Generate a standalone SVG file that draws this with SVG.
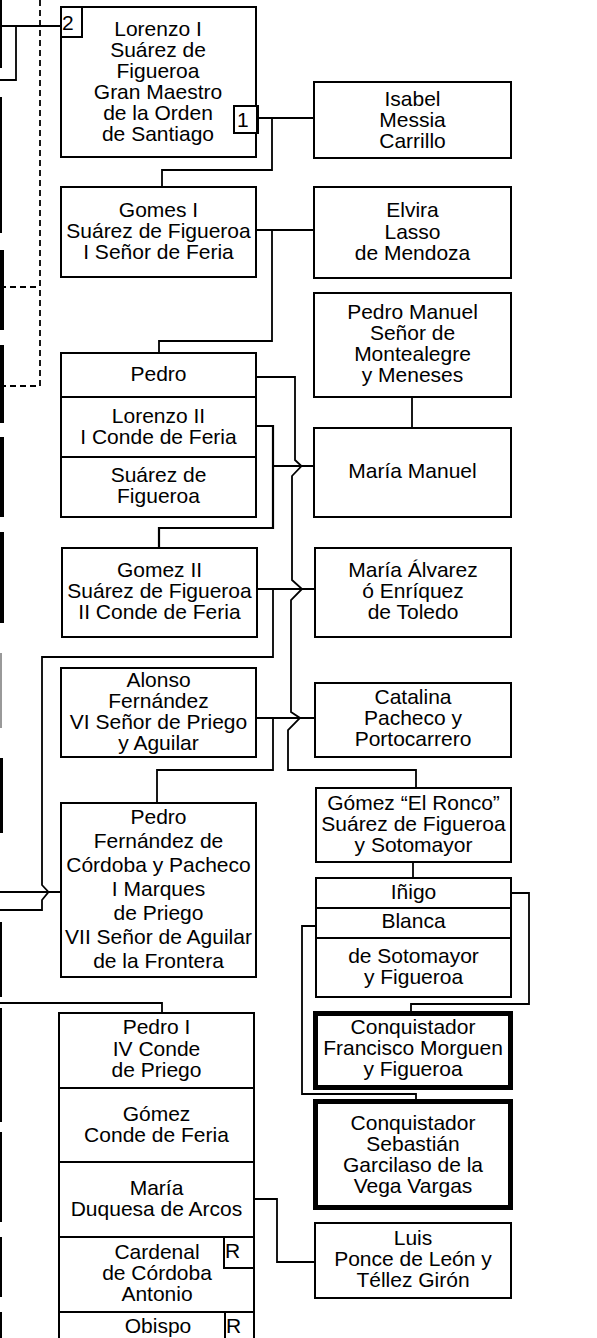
<svg xmlns="http://www.w3.org/2000/svg" width="597" height="1338" viewBox="0 0 597 1338">
<style>
.b{fill:#fff;stroke:#000;stroke-width:2}
.bb{fill:#fff;stroke:#000;stroke-width:5}
.c{fill:none;stroke:#000;stroke-width:1.8}
.d{fill:none;stroke:#000;stroke-width:1.8;stroke-dasharray:6,4}
.e{fill:#000;stroke:none}
text{font-family:"Liberation Sans",Arial,sans-serif;font-size:21px;fill:#000;text-anchor:middle}
.s{text-anchor:start}
</style>
<rect width="597" height="1338" fill="#fff"/>
<g id="connectors">
<path class="d" d="M40,0 V386 H0 M0,287 H40"/>
<path class="c" d="M0,26 H61 M16,26 V80 H0"/>
<path class="c" d="M258,118 H314 M272,118 V170 H162 V187"/>
<path class="c" d="M256,230 H314 M272,230 V341 H159 V353"/>
<path class="c" d="M412,397 V428"/>
<path class="c" d="M256,426 H273 V528 H159 V548 M273,466 H314" style="stroke-width:2.2"/>
<path class="c" d="M256,377 H295 V460 L301.5,466 L292,476 V580 L302,589 L291,600 V712 L300,718 L288,730 V770 H416 V788"/>
<path class="c" d="M257,589 H314 M273,589 V657 H42 V885 L48.5,892 L42,900 V910 H0"/>
<path class="c" d="M0,892 H61"/>
<path class="c" d="M256,718 H315 M273,718 V770 H157 V803"/>
<path class="c" d="M413,862 V878"/>
<path class="c" d="M511,893 H529 V1004 H411 V1011"/>
<path class="c" d="M316,926 H302 V1094 H416 V1100"/>
<path class="c" d="M0,1003 H162 V1013"/>
<path class="c" d="M254,1199 H277 V1262 H315"/>
</g>
<g id="edge-stubs">
<rect class="e" x="0" y="0" width="2" height="68"/>
<rect class="e" x="0" y="97" width="2" height="136"/>
<rect class="e" x="0" y="250" width="4" height="80"/>
<rect class="e" x="0" y="345" width="4" height="78"/>
<rect class="e" x="0" y="437" width="4" height="80"/>
<rect class="e" x="0" y="532" width="4" height="91"/>
<rect x="0" y="653" width="2" height="75" fill="#999"/>
<rect class="e" x="0" y="758" width="3" height="75"/>
<rect class="e" x="0" y="922" width="2" height="75"/>
<rect class="e" x="0" y="1008" width="2" height="114"/>
<rect class="e" x="0" y="1132" width="2" height="90"/>
<rect class="e" x="0" y="1237" width="2" height="60"/>
<rect class="e" x="0" y="1312" width="2" height="26"/>
</g>
<g id="lorenzo-i">
<rect class="b" x="61" y="7" width="195" height="150"/>
<text x="158" y="36">Lorenzo I</text>
<text x="158" y="57">Suárez de</text>
<text x="158" y="78">Figueroa</text>
<text x="158" y="99">Gran Maestro</text>
<text x="158" y="120">de la Orden</text>
<text x="158" y="141">de Santiago</text>
<rect class="b" x="61" y="7" width="21" height="30"/>
<text class="s" x="62" y="30">2</text>
<rect class="b" x="234" y="106" width="23" height="27"/>
<rect class="e" x="256" y="105" width="3" height="29"/>
<text class="s" x="237" y="127">1</text>
</g>
<g id="isabel">
<rect class="b" x="314" y="82" width="197" height="76"/>
<text x="412.5" y="106">Isabel</text>
<text x="412.5" y="127">Messia</text>
<text x="412.5" y="148">Carrillo</text>
</g>
<g id="gomes-i">
<rect class="b" x="61" y="187" width="195" height="90"/>
<text x="158.5" y="217">Gomes I</text>
<text x="158.5" y="238">Suárez de Figueroa</text>
<text x="158.5" y="259">I Señor de Feria</text>
</g>
<g id="elvira">
<rect class="b" x="314" y="187" width="197" height="91"/>
<text x="412.5" y="217">Elvira</text>
<text x="412.5" y="238.5">Lasso</text>
<text x="412.5" y="260">de Mendoza</text>
</g>
<g id="pedro-manuel">
<rect class="b" x="314" y="293" width="197" height="104"/>
<text x="412.5" y="319">Pedro Manuel</text>
<text x="412.5" y="340">Señor de</text>
<text x="412.5" y="361">Montealegre</text>
<text x="412.5" y="382">y Meneses</text>
</g>
<g id="pedro">
<rect class="b" x="61" y="353" width="195" height="44"/>
<text x="158.5" y="381">Pedro</text>
</g>
<g id="lorenzo-ii">
<rect class="b" x="61" y="397" width="195" height="60"/>
<text x="158.5" y="422.5">Lorenzo II</text>
<text x="158.5" y="443.5">I Conde de Feria</text>
</g>
<g id="suarez-de-figueroa">
<rect class="b" x="61" y="457" width="195" height="60"/>
<text x="158.5" y="481.5">Suárez de</text>
<text x="158.5" y="502.5">Figueroa</text>
</g>
<g id="maria-manuel">
<rect class="b" x="314" y="428" width="197" height="89"/>
<text x="412.5" y="478">María Manuel</text>
</g>
<g id="gomez-ii">
<rect class="b" x="62" y="548" width="195" height="89"/>
<text x="159.5" y="577">Gomez II</text>
<text x="159.5" y="598">Suárez de Figueroa</text>
<text x="159.5" y="619">II Conde de Feria</text>
</g>
<g id="maria-alvarez">
<rect class="b" x="315" y="548" width="196" height="89"/>
<text x="413" y="577">María Álvarez</text>
<text x="413" y="598">ó Enríquez</text>
<text x="413" y="619">de Toledo</text>
</g>
<g id="alonso">
<rect class="b" x="61" y="668" width="195" height="89"/>
<text x="158.5" y="687">Alonso</text>
<text x="158.5" y="708">Fernández</text>
<text x="158.5" y="729">VI Señor de Priego</text>
<text x="158.5" y="750">y Aguilar</text>
</g>
<g id="catalina">
<rect class="b" x="315" y="683" width="196" height="74"/>
<text x="413" y="704">Catalina</text>
<text x="413" y="725">Pacheco y</text>
<text x="413" y="746">Portocarrero</text>
</g>
<g id="gomez-el-ronco">
<rect class="b" x="316" y="788" width="195" height="74"/>
<text x="413.5" y="810">Gómez “El Ronco”</text>
<text x="413.5" y="831">Suárez de Figueroa</text>
<text x="413.5" y="852">y Sotomayor</text>
</g>
<g id="pedro-fernandez">
<rect class="b" x="61" y="803" width="195" height="174"/>
<text x="158.5" y="824">Pedro</text>
<text x="158.5" y="848">Fernández de</text>
<text x="158.5" y="872">Córdoba y Pacheco</text>
<text x="158.5" y="896">I Marques</text>
<text x="158.5" y="920">de Priego</text>
<text x="158.5" y="944">VII Señor de Aguilar</text>
<text x="158.5" y="968">de la Frontera</text>
</g>
<g id="inigo">
<rect class="b" x="316" y="878" width="195" height="30"/>
<text x="413.5" y="899">Iñigo</text>
</g>
<g id="blanca">
<rect class="b" x="316" y="908" width="195" height="30"/>
<text x="413.5" y="928">Blanca</text>
</g>
<g id="de-sotomayor">
<rect class="b" x="316" y="938" width="195" height="59"/>
<text x="413.5" y="962.5">de Sotomayor</text>
<text x="413.5" y="983.5">y Figueroa</text>
</g>
<g id="francisco-morguen">
<rect class="bb" x="315.5" y="1013.5" width="195" height="74"/>
<text x="413" y="1034">Conquistador</text>
<text x="413" y="1055">Francisco Morguen</text>
<text x="413" y="1076">y Figueroa</text>
</g>
<g id="garcilaso">
<rect class="bb" x="315.5" y="1101.5" width="195" height="106"/>
<text x="413" y="1130">Conquistador</text>
<text x="413" y="1151">Sebastián</text>
<text x="413" y="1172">Garcilaso de la</text>
<text x="413" y="1193">Vega Vargas</text>
</g>
<g id="pedro-i">
<rect class="b" x="59" y="1013" width="195" height="75"/>
<text x="156.5" y="1034">Pedro I</text>
<text x="156.5" y="1055.5">IV Conde</text>
<text x="156.5" y="1077">de Priego</text>
</g>
<g id="gomez-conde">
<rect class="b" x="59" y="1088" width="195" height="74"/>
<text x="156.5" y="1121">Gómez</text>
<text x="156.5" y="1142">Conde de Feria</text>
</g>
<g id="maria-duquesa">
<rect class="b" x="59" y="1162" width="195" height="75"/>
<text x="156.5" y="1195">María</text>
<text x="156.5" y="1216">Duquesa de Arcos</text>
</g>
<g id="cardenal">
<rect class="b" x="59" y="1237" width="195" height="75"/>
<text x="157" y="1259">Cardenal</text>
<text x="157" y="1280">de Córdoba</text>
<text x="157" y="1301">Antonio</text>
<rect class="b" x="224" y="1237" width="30" height="31"/>
<text class="s" x="225" y="1258">R</text>
</g>
<g id="obispo">
<rect class="b" x="59" y="1312" width="195" height="40"/>
<text x="158" y="1333">Obispo</text>
<rect class="b" x="225" y="1312" width="29" height="40"/>
<text class="s" x="226" y="1333">R</text>
</g>
<g id="luis">
<rect class="b" x="315" y="1223" width="196" height="75"/>
<text x="413" y="1245">Luis</text>
<text x="413" y="1266">Ponce de León y</text>
<text x="413" y="1287">Téllez Girón</text>
</g>
</svg>
